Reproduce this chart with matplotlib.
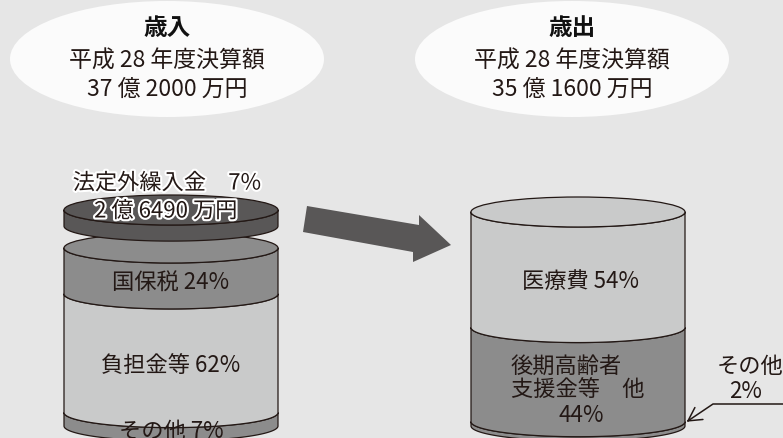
import matplotlib as mpl
mpl.use('Agg')
import matplotlib.pyplot as plt
import matplotlib.patheffects as pe
from matplotlib.patches import Ellipse, Polygon
import numpy as np

plt.rcParams['font.family'] = ['Noto Sans CJK JP', 'DejaVu Sans']

# data
titles = ['歳入', '歳出']
title_years = ['平成 28 年度決算額', '平成 28 年度決算額']
title_totals = ['37 億 2000 万円', '35 億 1600 万円']

rev_labels = ['国保税', '負担金等', 'その他']
rev_shares = [24, 62, 7]
rev_lid_label = '法定外繰入金'
rev_lid_share = 7
rev_lid_amount = '2 億 6490 万円'

exp_labels = ['医療費', '後期高齢者\n支援金等　他', 'その他']
exp_shares = [54, 44, 2]

BG = '#e6e6e6'
LIGHT = '#c9caca'
DARK = '#8c8c8c'
LID = '#595757'
EDGE = '#231815'
TXT = '#231815'
FS = 16

W, H = 783, 439
fig = plt.figure(figsize=(W / 100, H / 100), dpi=100)
fig.patch.set_facecolor(BG)
ax = fig.add_axes([0, 0, 1, 1])
ax.set_xlim(0, W)
ax.set_ylim(H, 0)
ax.axis('off')

# title bubbles
for cx, t, yr, tot in zip([167, 572], titles, title_years, title_totals):
    ax.add_patch(Ellipse((cx, 60), 314, 116, facecolor='#fbfbfb', edgecolor='none'))
    ax.text(cx, 28, t, ha='center', va='center', fontsize=17, fontweight='bold', color='#111111')
    ax.text(cx, 61, yr, ha='center', va='center', fontsize=16.5, color=TXT)
    ax.text(cx, 89, tot, ha='center', va='center', fontsize=16.5, color=TXT)


def front_arc(cx, cy, rx, ry, n=80):
    t = np.linspace(np.pi, 0, n)
    return np.column_stack([cx + rx * np.cos(t), cy + ry * np.sin(t)])


def band(cx, y0, y1, rx, ry, color):
    top = front_arc(cx, y0, rx, ry)
    bot = front_arc(cx, y1, rx, ry)[::-1]
    pts = np.vstack([[cx - rx, y0], top, [cx + rx, y1], bot])
    ax.add_patch(Polygon(pts, closed=True, facecolor=color, edgecolor=EDGE, lw=0.9, joinstyle='round'))


def cylinder(cx, ytop, shares, scale, colors, rx=107, ry=15):
    bounds = ytop + np.concatenate([[0], np.cumsum(shares)]) * scale
    for i in range(len(shares) - 1, -1, -1):
        band(cx, bounds[i], bounds[i + 1], rx, ry, colors[i])
    ax.add_patch(Ellipse((cx, ytop), 2 * rx, 2 * ry, facecolor=colors[0], edgecolor=EDGE, lw=0.9))
    return bounds


# left cylinder (revenue)
lcx, rcx = 171, 578
lscale, rscale = 1.914, 2.14
lb = cylinder(lcx, 249, rev_shares, lscale, [DARK, LIGHT, DARK])
# lid
cylinder(lcx, 211, [rev_lid_share], 2.3, [LID])

for i, (lab, s) in enumerate(zip(rev_labels, rev_shares)):
    ym = (lb[i] + lb[i + 1]) / 2 + 11
    ax.text(lcx, ym, f'{lab} {s}%', ha='center', va='center', fontsize=FS, color=TXT)

halo = [pe.withStroke(linewidth=3, foreground='white')]
ax.text(167, 184, f'{rev_lid_label}　{rev_lid_share}%', ha='center', va='center',
        fontsize=FS, color=TXT, path_effects=halo)
ax.text(166, 212, rev_lid_amount, ha='center', va='center',
        fontsize=FS, color=TXT, path_effects=halo)

# arrow between the cylinders
arrow = [(307, 207), (419, 226), (419, 216), (451, 246), (413, 263), (413, 253), (303, 233)]
ax.add_patch(Polygon(arrow, closed=True, facecolor=LID, edgecolor='none'))

# right cylinder (expenditure)
rb = cylinder(rcx, 213, exp_shares, rscale, [LIGHT, DARK, DARK])
ax.text(rcx + 2, (rb[0] + rb[1]) / 2 + 11, f'{exp_labels[0]} {exp_shares[0]}%',
        ha='center', va='center', fontsize=FS, color=TXT)
l1, l2 = exp_labels[1].split('\n')
ym = (rb[1] + rb[2]) / 2 + 15
ax.text(511, ym - 24, l1, ha='left', va='center', fontsize=FS, color=TXT)
ax.text(511, ym, l2, ha='left', va='center', fontsize=FS, color=TXT)
ax.text(581, ym + 25, f'{exp_shares[1]}%', ha='center', va='center', fontsize=FS, color=TXT)

# callout for the small slice
ax.text(717, 367, exp_labels[2], ha='left', va='center', fontsize=FS, color=TXT)
ax.text(746, 392, f'{exp_shares[2]}%', ha='center', va='center', fontsize=FS, color=TXT)
tip = np.array([rcx + 107 + 3, (rb[2] + rb[3]) / 2 - 3])
knee = np.array([713, 405])
ax.plot([W, knee[0], tip[0]], [knee[1], knee[1], tip[1]], color=EDGE, lw=1.1)
d = (knee - tip) / np.linalg.norm(knee - tip)
for ang in (0.5, -0.5):
    rot = np.array([[np.cos(ang), -np.sin(ang)], [np.sin(ang), np.cos(ang)]])
    wing = tip + rot @ d * 15
    ax.plot([tip[0], wing[0]], [tip[1], wing[1]], color=EDGE, lw=1.1, solid_capstyle='round')

plt.savefig('out.png', dpi=100, facecolor=BG)
